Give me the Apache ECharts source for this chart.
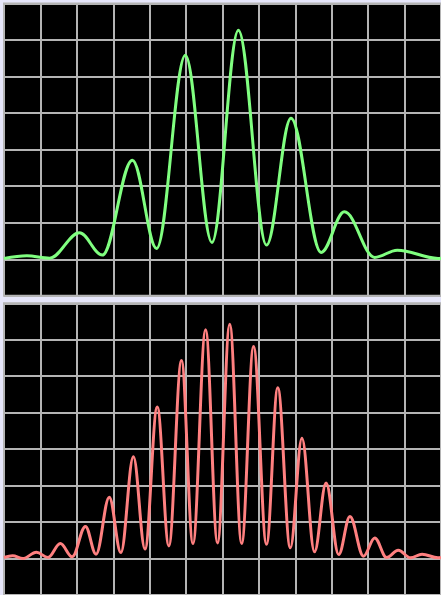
<!DOCTYPE html>
<html>
<head>
<meta charset="utf-8">
<script src="https://cdn.jsdelivr.net/npm/echarts@6/dist/echarts.min.js"></script>
<style>
  html, body { margin: 0; padding: 0; background: #e6e6fa; }
  #chart { width: 441px; height: 595px; }
</style>
</head>
<body>
<div id="chart"></div>
<script>
// Two-slit pattern (top) and many-slit pattern (bottom): fringe peaks and troughs.
const topX = [0, 0.627, 1.254, 2.073, 2.70, 3.526, 4.19, 4.98, 5.71, 6.436, 7.208, 7.88, 8.708, 9.346, 10.18, 10.80, 11.92, 12];
const topY = [1.02, 1.094, 1.031, 1.724, 1.114, 3.713, 1.297, 6.585, 1.461, 7.27, 1.387, 4.862, 1.187, 2.298, 1.051, 1.25, 1.023, 1.03];

const bottomX = [0, 0.237, 0.518, 0.892, 1.208, 1.546, 1.873, 2.236, 2.528, 2.891, 3.210, 3.553, 3.872, 4.208, 4.527, 4.873, 5.189, 5.536, 5.863, 6.199, 6.526, 6.853, 7.208, 7.518, 7.862, 8.181, 8.527, 8.844, 9.190, 9.499, 9.872, 10.18, 10.507, 10.826, 11.162, 11.48, 11.917, 12];
const bottomY = [1.028, 1.074, 1.001, 1.173, 1.028, 1.410, 1.047, 1.882, 1.118, 2.683, 1.164, 3.791, 1.260, 5.154, 1.347, 6.428, 1.410, 7.273, 1.429, 7.428, 1.410, 6.818, 1.391, 5.683, 1.293, 4.301, 1.184, 3.073, 1.110, 2.154, 1.064, 1.565, 1.028, 1.227, 1.020, 1.118, 1.020, 1.03];

const xTicks = { min: 0, max: 12, interval: 1 };
const yTicks = { min: 0, max: 8, interval: 1 };

const gridLine = { show: true, lineStyle: { color: '#b4b4b4', width: 2 } };

function axis(ticks, gridIndex) {
  return {
    type: 'value', gridIndex: gridIndex,
    min: ticks.min, max: ticks.max, interval: ticks.interval,
    axisLabel: { show: false }, axisTick: { show: false }, axisLine: { show: false },
    splitLine: gridLine
  };
}

function pairs(xs, ys) { return xs.map((x, i) => [x, ys[i]]); }

const chart = echarts.init(document.getElementById('chart'), null, { renderer: 'canvas' });
chart.setOption({
  animation: false,
  backgroundColor: '#e6e6fa',
  grid: [
    { left: 4, top: 3.5, width: 440, height: 292.3, show: true, backgroundColor: '#000000', borderColor: '#b4b4b4', borderWidth: 2 },
    { left: 4, top: 303.3, width: 440, height: 293.4, show: true, backgroundColor: '#000000', borderColor: '#b4b4b4', borderWidth: 2 }
  ],
  xAxis: [axis(xTicks, 0), axis(xTicks, 1)],
  yAxis: [axis(yTicks, 0), axis(yTicks, 1)],
  series: [
    {
      type: 'line', xAxisIndex: 0, yAxisIndex: 0,
      data: pairs(topX, topY), showSymbol: false,
      smooth: 0.36, smoothMonotone: 'x',
      lineStyle: { color: '#80ff80', width: 3 }
    },
    {
      type: 'line', xAxisIndex: 1, yAxisIndex: 1,
      data: pairs(bottomX, bottomY), showSymbol: false,
      smooth: 0.36, smoothMonotone: 'x',
      lineStyle: { color: '#ff8080', width: 3 }
    }
  ]
});
</script>
</body>
</html>
